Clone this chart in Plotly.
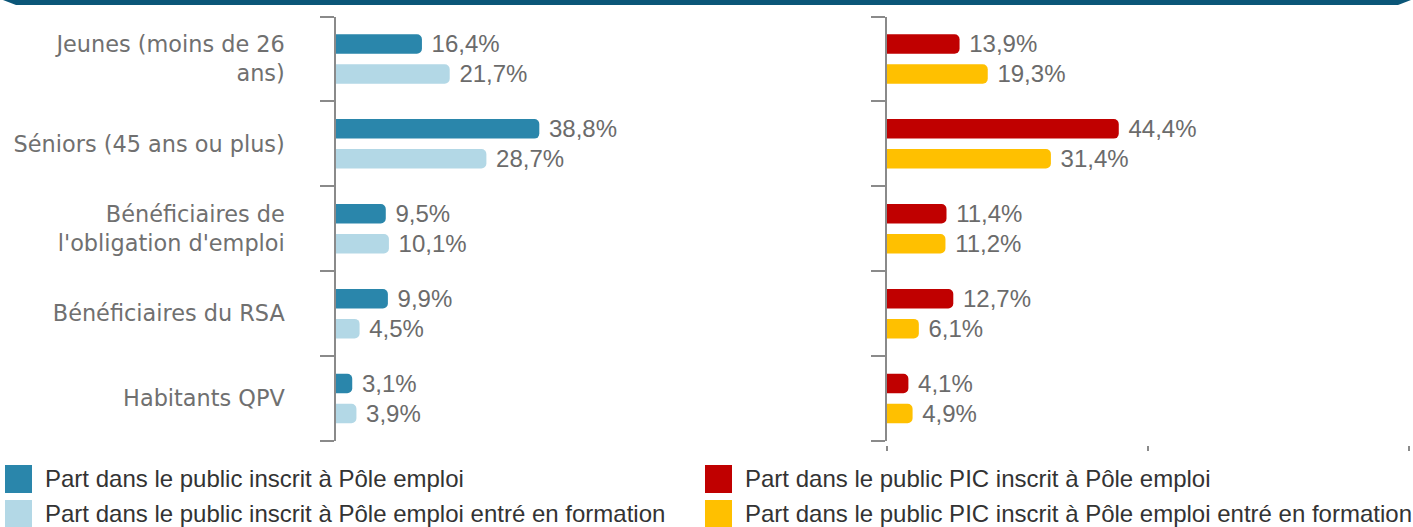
import plotly.graph_objects as go

W, H = 1413, 527

categories = ["Jeunes (moins de 26<br>ans)", "Séniors (45 ans ou plus)",
              "Bénéficiaires de<br>l'obligation d'emploi", "Bénéficiaires du RSA",
              "Habitants QPV"]
pe = [16.4, 38.8, 9.5, 9.9, 3.1]
pe_form = [21.7, 28.7, 10.1, 4.5, 3.9]
pic = [13.9, 44.4, 11.4, 12.7, 4.1]
pic_form = [19.3, 31.4, 11.2, 6.1, 4.9]

names = ["Part dans le public inscrit à Pôle emploi",
         "Part dans le public inscrit à Pôle emploi entré en formation",
         "Part dans le public PIC inscrit à Pôle emploi",
         "Part dans le public PIC inscrit à Pôle emploi entré en formation"]
colors = ["#2a86ab", "#b3d8e6", "#c00000", "#ffc000"]

series = [(pe, "x", "y"), (pe_form, "x", "y"), (pic, "x2", "y2"), (pic_form, "x2", "y2")]

fig = go.Figure()
# within each subplot add the "formation" series first so it sits below (non-reversed axis)
for idx in [1, 0, 3, 2]:
    vals, xa, ya = series[idx]
    fig.add_trace(go.Bar(
        x=vals, y=categories, orientation="h", name=names[idx], xaxis=xa, yaxis=ya,
        marker=dict(color=colors[idx], cornerradius=5, line=dict(width=0)),
        texttemplate=" %{x:.1f}%", textposition="outside", constraintext="none",
        cliponaxis=False, showlegend=False, hoverinfo="skip",
        textfont=dict(family="Liberation Sans", size=24, color="#6b6b6b"),
    ))

def px(v):
    return v / W

def py(v):
    return 1 - v / H

ydom = [py(441), py(16.5)]
axis_line = dict(showline=True, linecolor="#8a8a8a", linewidth=1.5, ticks="outside",
                 ticklen=14, tickwidth=1.5, tickcolor="#8a8a8a", tickson="boundaries",
                 showgrid=False, zeroline=False, range=[-0.5, 4.5], automargin=False,
                 categoryorder="array", categoryarray=categories[::-1])

fig.update_layout(
    width=W, height=H, margin=dict(l=0, r=0, t=0, b=0),
    paper_bgcolor="white", plot_bgcolor="white",
    barmode="group", bargap=0.294, bargroupgap=0.35,
    separators=", ",
    font=dict(family="Liberation Sans", color="#333333"),
    xaxis=dict(domain=[px(336), px(860)], range=[0, 100], showgrid=False, zeroline=False,
               showline=False, showticklabels=False, ticks="", anchor="y"),
    yaxis=dict(domain=ydom, anchor="x", showticklabels=True, ticklabelstandoff=45,
               tickfont=dict(family="DejaVu Sans", size=22.4, color="#707070"), **axis_line),
    xaxis2=dict(domain=[px(887), px(1409)], range=[0, 100], showgrid=False, zeroline=False,
                showline=False, showticklabels=False, ticks="outside", ticklen=5,
                tickwidth=1.5, tickcolor="#8a8a8a", tickvals=[0, 50, 100],
                anchor="free", position=py(445)),
    yaxis2=dict(domain=ydom, anchor="x2", showticklabels=False, **axis_line),
)

# header band
fig.add_shape(type="path", xref="paper", yref="paper",
              path=f"M {px(3)},1 L {px(1411)},1 L {px(1398)},{py(5)} L {px(16)},{py(5)} Z",
              fillcolor="#0b5678", line=dict(width=0), layer="above")

# legend (two columns)
legend_pos = [(5, 465), (5, 500), (705, 465), (705, 500)]
for (lx, ly), name, col in zip(legend_pos, names, colors):
    fig.add_shape(type="rect", xref="paper", yref="paper",
                  x0=px(lx), x1=px(lx + 27), y0=py(ly + 28), y1=py(ly),
                  fillcolor=col, line=dict(width=0))
    fig.add_annotation(xref="paper", yref="paper", x=px(lx + 38), y=py(ly + 13),
                       xanchor="left", yanchor="middle", showarrow=False, text=name,
                       font=dict(family="Liberation Sans", size=24, color="#333333"))

fig.write_html("out.html", config={"displayModeBar": False},
               post_script="document.body.style.margin='0';document.body.style.overflow='hidden';")
